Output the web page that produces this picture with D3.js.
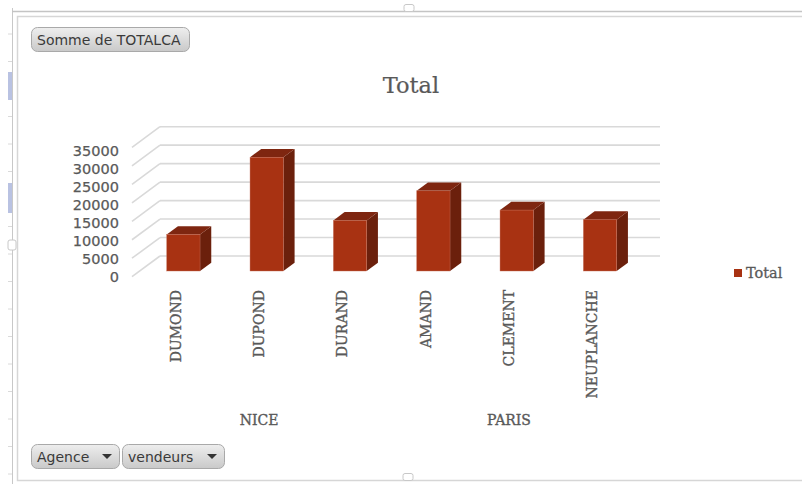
<!DOCTYPE html>
<html>
<head>
<meta charset="utf-8">
<script src="https://cdn.jsdelivr.net/npm/d3@7/dist/d3.min.js"></script>
<style>
  html, body { margin: 0; padding: 0; background: #ffffff; }
  svg { display: block; }
</style>
</head>
<body>
<svg id="chart" width="802" height="484"></svg>
<script>
// Sales per seller, grouped by agency
const categories = ["DUMOND", "DUPOND", "DURAND", "AMAND", "CLEMENT", "NEUPLANCHE"];
const agencies = ["NICE", "NICE", "NICE", "PARIS", "PARIS", "PARIS"];
const totals = [9900, 30800, 13700, 21700, 16500, 13900];
const tickValues = [0, 5000, 10000, 15000, 20000, 25000, 30000, 35000];
const seriesName = "Total";

const svg = d3.select("#chart");

const serif = "'DejaVu Serif', serif";
const sans = "'DejaVu Sans', sans-serif";
const textGrey = "#595959";

// ---- worksheet frame around the pivot chart ----
const frame = svg.append("g");
frame.append("line").attr("x1", 12.5).attr("y1", 8).attr("x2", 12.5).attr("y2", 484)
  .attr("stroke", "#c8c8c8").attr("stroke-width", 1);
frame.append("line").attr("x1", 12).attr("y1", 11.5).attr("x2", 802).attr("y2", 11.5)
  .attr("stroke", "#c4c4c4").attr("stroke-width", 1.5);
frame.append("rect").attr("x", 17.5).attr("y", 16.5).attr("width", 790).attr("height", 464)
  .attr("fill", "none").attr("stroke", "#d6d6d6").attr("stroke-width", 1.5);
// row markers on the sheet edge
d3.range(34, 484, 27.5).forEach(yy => {
  frame.append("line").attr("x1", 8).attr("x2", 12).attr("y1", yy).attr("y2", yy)
    .attr("stroke", "#dadada");
});
frame.append("rect").attr("x", 8).attr("y", 72).attr("width", 4).attr("height", 28).attr("fill", "#b9c2e2");
frame.append("rect").attr("x", 8).attr("y", 183).attr("width", 4).attr("height", 30).attr("fill", "#b9c2e2");
// resize handles
[[12, 245, 8, 10], [409, 8, 10, 7], [408, 477, 10, 7]].forEach(([hx, hy, hw, hh]) => {
  frame.append("rect").attr("x", hx - hw / 2).attr("y", hy - hh / 2)
    .attr("width", hw).attr("height", hh).attr("rx", 2)
    .attr("fill", "#ffffff").attr("stroke", "#c8c8c8");
});

// ---- 3D plot geometry ----
const floorFront = { x: 132, y: 276.7 };   // front-left corner of the floor
const depth = { dx: 28, dy: -20.7 };         // oblique depth vector
const wallWidth = 500;
const barFront = 0.275, barBack = 0.676;     // bar position inside the depth

const h = d3.scaleLinear().domain([0, 35000]).range([0, 129.3]);
const x = d3.scaleBand().domain(categories).range([134, 634]).paddingInner(0.6).paddingOuter(0.3);
const tickY = d3.scaleLinear().domain([0, 35000]).range([276.7, 150.3]);

// gridlines on the back wall plus their diagonals on the side wall
const grid = svg.append("g").attr("stroke", "#d9d9d9").attr("stroke-width", 1.6).attr("fill", "none");
tickValues.forEach(v => {
  const yb = floorFront.y + depth.dy - h(v);
  const xb = floorFront.x + depth.dx;
  grid.append("line").attr("x1", xb).attr("y1", yb).attr("x2", xb + wallWidth).attr("y2", yb);
  grid.append("line").attr("x1", floorFront.x).attr("y1", yb - depth.dy).attr("x2", xb).attr("y2", yb);
});

// value axis labels
svg.append("g").selectAll("text").data(tickValues).join("text")
  .attr("x", 119).attr("y", d => tickY(d)).attr("dy", "0.36em")
  .attr("text-anchor", "end")
  .attr("font-family", sans).attr("font-size", 14.5).attr("fill", textGrey)
  .attr("stroke", textGrey).attr("stroke-width", 0.25)
  .text(d => d);

// bars: front, top and side faces
const bdx = depth.dx * (barBack - barFront), bdy = depth.dy * (barBack - barFront);
const bars = svg.append("g");
categories.forEach((c, i) => {
  const x0 = x(c) + depth.dx * barFront;
  const x1 = x0 + x.bandwidth();
  const base = floorFront.y + depth.dy * barFront;
  const top = base - h(totals[i]);
  bars.append("path")
    .attr("d", `M${x1},${top}L${x1 + bdx},${top + bdy}L${x1 + bdx},${base + bdy}L${x1},${base}Z`)
    .attr("fill", "#6b200c");
  bars.append("path")
    .attr("d", `M${x0},${top}L${x0 + bdx},${top + bdy}L${x1 + bdx},${top + bdy}L${x1},${top}Z`)
    .attr("fill", "#7e2610");
  bars.append("rect")
    .attr("x", x0).attr("y", top).attr("width", x1 - x0).attr("height", base - top)
    .attr("fill", "#a83212").attr("stroke", "#c8735e").attr("stroke-width", 0.4);
});

// category labels (rotated)
svg.append("g").selectAll("text").data(categories).join("text")
  .attr("transform", d => `translate(${x(d) + x.bandwidth() / 2},290) rotate(-90)`)
  .attr("text-anchor", "end").attr("dy", "0.36em")
  .attr("font-family", serif).attr("font-size", 14).attr("fill", textGrey)
  .attr("stroke", textGrey).attr("stroke-width", 0.35)
  .text(d => d);

// agency group labels
const groups = d3.groups(categories.map((c, i) => ({ c, a: agencies[i] })), d => d.a);
svg.append("g").selectAll("text").data(groups).join("text")
  .attr("x", g => d3.mean(g[1], d => x(d.c) + x.bandwidth() / 2))
  .attr("y", 424.5)
  .attr("text-anchor", "middle")
  .attr("font-family", serif).attr("font-size", 14).attr("fill", textGrey)
  .attr("stroke", textGrey).attr("stroke-width", 0.35)
  .text(g => g[0]);

// title
svg.append("text").attr("x", 411).attr("y", 93).attr("text-anchor", "middle")
  .attr("font-family", serif).attr("font-size", 22.5).attr("fill", textGrey)
  .attr("stroke", textGrey).attr("stroke-width", 0.2)
  .text(seriesName);

// legend
const legend = svg.append("g");
legend.append("rect").attr("x", 734).attr("y", 269).attr("width", 8).attr("height", 8).attr("fill", "#a83212");
legend.append("text").attr("x", 746).attr("y", 278)
  .attr("font-family", serif).attr("font-size", 14.5).attr("fill", textGrey)
  .attr("stroke", textGrey).attr("stroke-width", 0.3).text(seriesName);

// pivot field buttons
const defs = svg.append("defs");
const grad = defs.append("linearGradient").attr("id", "btn").attr("x1", 0).attr("y1", 0).attr("x2", 0).attr("y2", 1);
grad.append("stop").attr("offset", 0).attr("stop-color", "#eeeeee");
grad.append("stop").attr("offset", 1).attr("stop-color", "#c9c9c9");

function button(bx, by, bw, label, withArrow) {
  const g = svg.append("g");
  g.append("rect").attr("x", bx + 0.5).attr("y", by + 0.5).attr("width", bw).attr("height", 24).attr("rx", 6)
    .attr("fill", "url(#btn)").attr("stroke", "#a9a9a9");
  g.append("text").attr("x", bx + 6).attr("y", by + 17.5)
    .attr("font-family", sans).attr("font-size", 14).attr("fill", "#3a3a3a").text(label);
  if (withArrow) {
    const ax = bx + bw - 17, ay = by + 10;
    g.append("path").attr("d", `M${ax},${ay}L${ax + 10},${ay}L${ax + 5},${ay + 5}Z`).attr("fill", "#333");
  }
}
button(31, 27, 158, "Somme de TOTALCA", false);
button(31, 444, 88, "Agence", true);
button(122, 444, 102, "vendeurs", true);
</script>
</body>
</html>
